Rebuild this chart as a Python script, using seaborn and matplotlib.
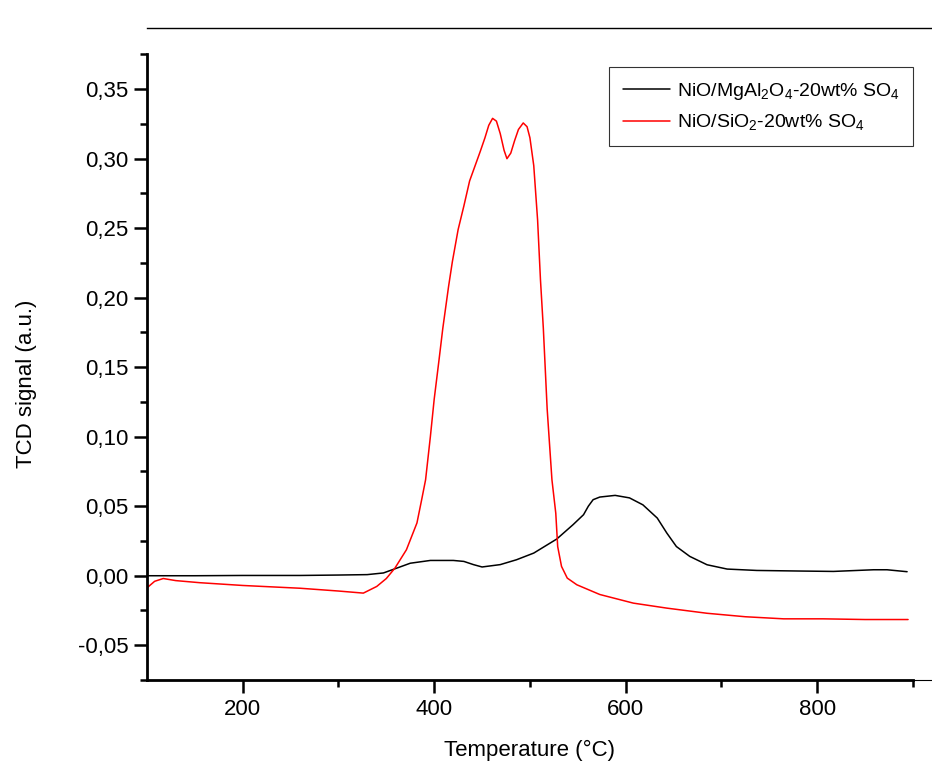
import matplotlib
matplotlib.use("Agg")
import matplotlib.pyplot as plt
from matplotlib.ticker import FuncFormatter
import seaborn as sns
import pandas as pd

# ---- data ----
T_mg = [100, 150, 200, 260, 300, 330, 347, 361, 375, 396, 420, 431, 441, 450, 469,
        486, 504, 528, 545, 556, 561, 566, 573, 589, 604, 618, 633, 643, 653, 667,
        685, 706, 737, 780, 817, 859, 873, 894]
S_mg = [0.000, 0.000, 0.0002, 0.0002, 0.0005, 0.0008, 0.002, 0.0055, 0.009, 0.011,
        0.011, 0.0103, 0.008, 0.0063, 0.008, 0.0115, 0.0163, 0.0264, 0.0367, 0.0439,
        0.050, 0.0547, 0.0566, 0.0578, 0.056, 0.051, 0.0415, 0.0307, 0.021, 0.0139,
        0.0079, 0.0048, 0.0038, 0.0034, 0.0031, 0.0043, 0.0043, 0.0029]

T_si = [100, 108, 117, 130, 155, 200, 260, 300, 326, 340, 350, 359, 371, 382, 387,
        391, 396, 400, 405, 409, 415, 419, 425, 431, 437, 448, 453, 457, 461, 465,
        469, 473, 476, 480, 484, 488, 493, 497, 500, 504, 508, 511, 514, 518, 523,
        527, 529, 533, 539, 549, 573, 608, 643, 685, 725, 765, 806, 850, 895]
S_si = [-0.0087, -0.004, -0.002, -0.0035, -0.005, -0.007, -0.009, -0.011, -0.0125,
        -0.0077, -0.002, 0.0055, 0.0187, 0.038, 0.055, 0.069, 0.10, 0.127, 0.155,
        0.178, 0.208, 0.226, 0.249, 0.266, 0.284, 0.305, 0.315, 0.324, 0.329, 0.327,
        0.318, 0.306, 0.300, 0.304, 0.313, 0.321, 0.3257, 0.323, 0.315, 0.295, 0.256,
        0.213, 0.178, 0.12, 0.069, 0.045, 0.021, 0.0067, -0.0017, -0.0065, -0.0135,
        -0.0197, -0.0233, -0.027, -0.0295, -0.031, -0.031, -0.0315, -0.0315]

label_mg = r"$\mathregular{NiO/MgAl_2O_4}$-20wt% $\mathregular{SO_4}$"
label_si = r"$\mathregular{NiO/SiO_2}$-20wt% $\mathregular{SO_4}$"

df = pd.concat([
    pd.DataFrame({"T": T_mg, "S": S_mg, "sample": label_mg}),
    pd.DataFrame({"T": T_si, "S": S_si, "sample": label_si}),
], ignore_index=True)

sns.set_style("ticks")
plt.rcParams["font.family"] = ["Liberation Sans", "DejaVu Sans"]
plt.rcParams["mathtext.fontset"] = "custom"
plt.rcParams["mathtext.rm"] = "Liberation Sans"
plt.rcParams["text.color"] = "black"
plt.rcParams["axes.labelcolor"] = "black"
plt.rcParams["xtick.color"] = "black"
plt.rcParams["ytick.color"] = "black"
plt.rcParams["axes.edgecolor"] = "black"

fig = plt.figure(figsize=(9.32, 7.69), dpi=100)
ax = fig.add_axes([147 / 932, 1 - 680 / 769, 1 - 147 / 932, (680 - 28) / 769])

sns.lineplot(data=df, x="T", y="S", hue="sample", sort=False, estimator=None,
             palette={label_mg: "black", label_si: "#ff0000"}, linewidth=1.1, ax=ax)

ax.set_xlim(100, 920)
ax.set_ylim(-0.075, 0.394)

ax.set_xticks([200, 400, 600, 800])
ax.set_xticks([300, 500, 700, 900], minor=True)
ax.set_yticks([-0.05, 0.0, 0.05, 0.10, 0.15, 0.20, 0.25, 0.30, 0.35])
ax.set_yticks([-0.075, -0.025, 0.025, 0.075, 0.125, 0.175, 0.225, 0.275, 0.325, 0.375], minor=True)

ax.yaxis.set_major_formatter(FuncFormatter(lambda v, p: f"{v:.2f}".replace(".", ",").replace("-0,00", "0,00")))
ax.xaxis.set_major_formatter(FuncFormatter(lambda v, p: f"{int(v)}"))

ax.tick_params(axis="both", which="major", direction="out", length=9.5, width=1.8,
               labelsize=16, pad=4, colors="black")
ax.tick_params(axis="both", which="minor", direction="out", length=5, width=1.8, colors="black")

ax.spines["right"].set_visible(False)
ax.spines["top"].set_linewidth(1.0)
ax.spines["left"].set_linewidth(2.0)
ax.spines["left"].set_bounds(-0.075, 0.375)
ax.spines["bottom"].set_linewidth(2.0)
ax.spines["bottom"].set_bounds(100, 900)
ax.plot([0, 1], [0, 0], transform=ax.transAxes, color="black", lw=0.8, clip_on=False, zorder=0)

ax.set_xlabel("Temperature (°C)", fontsize=16)
ax.set_ylabel("TCD signal (a.u.)", fontsize=16)
ax.xaxis.set_label_coords((530 - 147) / 785, -60 / 652)
ax.yaxis.set_label_coords((37 - 147) / 785, (680 - 384) / 652)

leg = ax.legend(loc="upper right", bbox_to_anchor=(0.976, 0.94), borderaxespad=0,
                fontsize=14, frameon=True, fancybox=False, edgecolor="black",
                handlelength=2.4, handletextpad=0.35, borderpad=0.7, labelspacing=0.55,
                title=None)
leg.get_frame().set_linewidth(0.8)

fig.savefig("out.png", dpi=100, facecolor="white")
